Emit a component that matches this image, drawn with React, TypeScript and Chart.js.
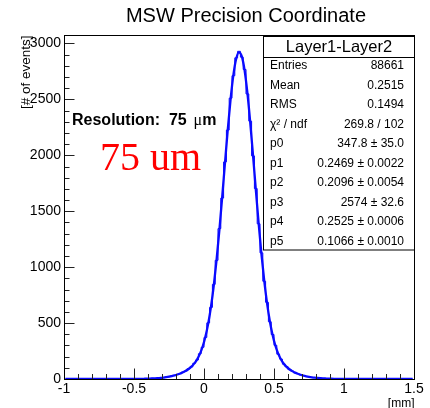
import React, { useEffect, useRef } from "react";
import { Chart, registerables } from "chart.js";

Chart.register(...registerables);

// ---- data ----
const BIN_LOW = -1;
const BIN_WIDTH = 0.02;

// histogram bin contents, bins of 0.02 mm from -1 to 1.5
const histCounts = [
  1, 0, 2, 1, 0, 1, 3, 0, 1, 2, 0, 1, 2, 1, 0, 3, 1, 2, 0, 2, 1, 3, 2, 1, 2,
  2, 1, 3, 2, 4, 3, 6, 5, 9, 11, 12, 18, 20, 28, 31, 42, 47, 62, 71, 92, 108, 141, 170, 226, 284,
  372, 502, 640, 846, 1061, 1345, 1618, 1941, 2226, 2511, 2712, 2872, 2930, 2878, 2768, 2549, 2306, 1995, 1703, 1388, 1128, 874, 686, 512, 398,
  301, 222, 178, 133, 111, 84, 72, 55, 48, 36, 31, 23, 21, 14, 13, 8, 8, 5, 5, 2, 3, 1, 2, 0, 1,
  0, 1, 0, 2, 0, 1, 1, 0, 0, 1, 0, 2, 1, 0, 0, 1, 0, 1, 0, 0, 1, 0, 1, 0, 0,
];

// fitted curve values at the same bin centres
const fitValues = [
  0, 0, 0, 0, 0, 0, 0, 0, 0, 0, 0, 0, 0, 0, 0, 0, 0.1, 0.1, 0.1, 0.1, 0.2, 0.2, 0.3, 0.4, 0.5,
  0.7, 1.0, 1.4, 2.0, 2.6, 3.5, 4.6, 6.1, 7.9, 10.2, 13.1, 16.6, 20.9, 26.2, 32.5, 40.1, 49.1, 60.0, 73.1, 89.5, 110.4, 137.4, 173.4, 222.1, 288.2,
  377.2, 495.2, 647.4, 838.2, 1068.2, 1334.3, 1627.7, 1933.6, 2233.0, 2502.7, 2719.8, 2864.1, 2921.1, 2885.2, 2760.1, 2557.9, 2297.8, 2002.4, 1694.8, 1395.7, 1121.1, 881.0, 680.0, 518.6, 392.7,
  297.2, 226.7, 174.7, 136.5, 108.2, 86.9, 70.4, 57.2, 46.5, 37.8, 30.3, 24.4, 19.5, 15.4, 12.1, 9.4, 7.3, 5.5, 4.2, 3.1, 2.3, 1.7, 1.2, 0.9, 0.6,
  0.4, 0.3, 0.2, 0.1, 0.1, 0.1, 0, 0, 0, 0, 0, 0, 0, 0, 0, 0, 0, 0, 0, 0, 0, 0, 0, 0, 0,
];

const xTickValues = [-1, -0.5, 0, 0.5, 1, 1.5];
const yTickValues = [0, 500, 1000, 1500, 2000, 2500, 3000];
const X_MIN = -1;
const X_MAX = 1.5;
const Y_MIN = 0;
const Y_MAX = 3076;
const X_MINOR_STEP = 0.1;
const Y_MINOR_STEP = 100;

const TITLE = "MSW Precision Coordinate";
const X_TITLE = "[mm]";
const Y_TITLE = "[# of events]";
const STATS_HEADER = "Layer1-Layer2";
const statsLabels = ["Entries", "Mean", "RMS", "χ² / ndf", "p0", "p1", "p2", "p3", "p4", "p5"];
const statsValues = [
  "88661",
  "0.2515",
  "0.1494",
  "269.8 / 102",
  "347.8 ± 35.0",
  "0.2469 ± 0.0022",
  "0.2096 ± 0.0054",
  "2574 ± 32.6",
  "0.2525 ± 0.0006",
  "0.1066 ± 0.0010",
];

const SANS = '"Liberation Sans", Arial, sans-serif';
const SERIF = '"Liberation Serif", "Times New Roman", serif';

const rootStylePlugin = {
  id: "rootStyle",
  afterDraw(chart: any) {
    const ctx = chart.ctx as CanvasRenderingContext2D;
    const area = chart.chartArea;
    const xs = chart.scales.x;
    const ys = chart.scales.y;
    const L = Math.round(area.left) + 0.5;
    const R = Math.round(area.right) + 0.5;
    const T = Math.round(area.top) + 0.5;
    const B = Math.round(area.bottom) + 0.5;
    ctx.save();

    // ticks (inward)
    ctx.strokeStyle = "#222";
    ctx.lineWidth = 1;
    ctx.beginPath();
    const nx = Math.round((X_MAX - X_MIN) / X_MINOR_STEP);
    for (let i = 0; i <= nx; i++) {
      const v = X_MIN + i * X_MINOR_STEP;
      const major = Math.abs(v / 0.5 - Math.round(v / 0.5)) < 1e-6;
      const px = Math.round(xs.getPixelForValue(v)) + 0.5;
      ctx.moveTo(px, B);
      ctx.lineTo(px, B - (major ? 11 : 5.5));
    }
    const ny = Math.floor((Y_MAX - Y_MIN) / Y_MINOR_STEP);
    for (let i = 0; i <= ny; i++) {
      const v = Y_MIN + i * Y_MINOR_STEP;
      const major = v % 500 === 0;
      const py = Math.round(ys.getPixelForValue(v)) + 0.5;
      ctx.moveTo(L, py);
      ctx.lineTo(L + (major ? 10 : 5), py);
    }
    ctx.stroke();

    // frame
    ctx.strokeStyle = "#000";
    ctx.strokeRect(L, T, R - L, B - T);

    // title
    ctx.fillStyle = "#000";
    ctx.font = `20px ${SANS}`;
    ctx.textAlign = "center";
    ctx.textBaseline = "alphabetic";
    ctx.fillText(TITLE, 246, 22);

    // x title
    ctx.font = `12px ${SANS}`;
    ctx.textAlign = "right";
    ctx.fillText(X_TITLE, R, 407);

    // y title
    ctx.save();
    ctx.translate(30, T);
    ctx.rotate(-Math.PI / 2);
    ctx.font = `13.5px ${SANS}`;
    ctx.textAlign = "right";
    ctx.textBaseline = "alphabetic";
    ctx.fillText(Y_TITLE, 0, 0);
    ctx.restore();

    // stats box
    const bx = 263.5;
    const by = 36.5;
    const bw = R - bx;
    const bh = 213.5;
    ctx.fillStyle = "#fff";
    ctx.fillRect(bx, by, bw, bh);
    ctx.strokeStyle = "#000";
    ctx.strokeRect(bx, by, bw, bh);
    ctx.beginPath();
    ctx.moveTo(bx, 57.5);
    ctx.lineTo(bx + bw, 57.5);
    ctx.stroke();
    ctx.fillStyle = "#000";
    ctx.font = `16.5px ${SANS}`;
    ctx.textAlign = "center";
    ctx.textBaseline = "middle";
    ctx.fillText(STATS_HEADER, bx + bw / 2, 47.5);
    ctx.font = `12px ${SANS}`;
    for (let i = 0; i < statsLabels.length; i++) {
      const cy = 66 + i * 19.5;
      ctx.textAlign = "left";
      ctx.fillText(statsLabels[i], 270, cy);
      ctx.textAlign = "right";
      ctx.fillText(statsValues[i], 404, cy);
    }

    // resolution annotation
    ctx.textAlign = "left";
    ctx.textBaseline = "middle";
    ctx.font = `bold 16px ${SANS}`;
    const part1 = "Resolution:  75  ";
    ctx.fillText(part1, 72, 121);
    let cx = 72 + ctx.measureText(part1).width - 2;
    ctx.font = `16px ${SERIF}`;
    ctx.fillText("μ", cx, 121);
    cx += ctx.measureText("μ").width;
    ctx.font = `bold 16px ${SANS}`;
    ctx.fillText("m", cx, 121);

    ctx.fillStyle = "#ff0000";
    ctx.font = `40px ${SERIF}`;
    ctx.textBaseline = "alphabetic";
    ctx.fillText("75 um", 100, 170);

    ctx.restore();
  },
};

export default function App() {
  const canvasRef = useRef<HTMLCanvasElement | null>(null);

  useEffect(() => {
    document.body.style.margin = "0";
    const canvas = canvasRef.current;
    if (!canvas) return;
    const centers = histCounts.map((_, i) => BIN_LOW + BIN_WIDTH * (i + 0.5));
    const histData = histCounts.map((c, i) => ({ x: centers[i], y: c }));
    const fitData = fitValues.map((c, i) => ({ x: centers[i], y: c }));

    const chart = new Chart(canvas, {
      type: "line",
      data: {
        datasets: [
          {
            label: "fit",
            data: fitData,
            borderColor: "#0a0aff",
            borderWidth: 2.3,
            pointRadius: 0,
            cubicInterpolationMode: "monotone",
            fill: false,
          },
          {
            label: "hist",
            data: histData,
            borderColor: "#0000ff",
            borderWidth: 1,
            pointRadius: 0,
            stepped: "middle",
            fill: false,
          },
        ],
      },
      options: {
        responsive: false,
        animation: false,
        devicePixelRatio: 1,
        layout: { padding: { left: 0, top: 35, right: 16, bottom: 0 } },
        plugins: {
          legend: { display: false },
          title: { display: false },
          tooltip: { enabled: false },
        },
        scales: {
          x: {
            type: "linear",
            min: X_MIN,
            max: X_MAX,
            grid: { display: false, drawTicks: false },
            border: { display: false },
            afterBuildTicks: (scale: any) => {
              scale.ticks = xTickValues.map((v) => ({ value: v }));
            },
            afterFit: (scale: any) => {
              scale.height = 29;
            },
            ticks: {
              color: "#000",
              padding: 2,
              maxRotation: 0,
              autoSkip: false,
              font: { family: SANS, size: 14 },
              callback: (v: any) => String(v),
            },
          },
          y: {
            type: "linear",
            min: Y_MIN,
            max: Y_MAX,
            grid: { display: false, drawTicks: false },
            border: { display: false },
            afterBuildTicks: (scale: any) => {
              scale.ticks = yTickValues.map((v) => ({ value: v }));
            },
            afterFit: (scale: any) => {
              scale.width = 64;
            },
            ticks: {
              color: "#000",
              padding: 3,
              autoSkip: false,
              font: { family: SANS, size: 14 },
              callback: (v: any) => String(v),
            },
          },
        },
      },
      plugins: [rootStylePlugin],
    } as any);

    return () => {
      chart.destroy();
    };
  }, []);

  return (
    <div style={{ position: "absolute", left: 0, top: 0, width: 430, height: 408, background: "#fff" }}>
      <canvas ref={canvasRef} width={430} height={408} style={{ display: "block", width: 430, height: 408 }} />
    </div>
  );
}
